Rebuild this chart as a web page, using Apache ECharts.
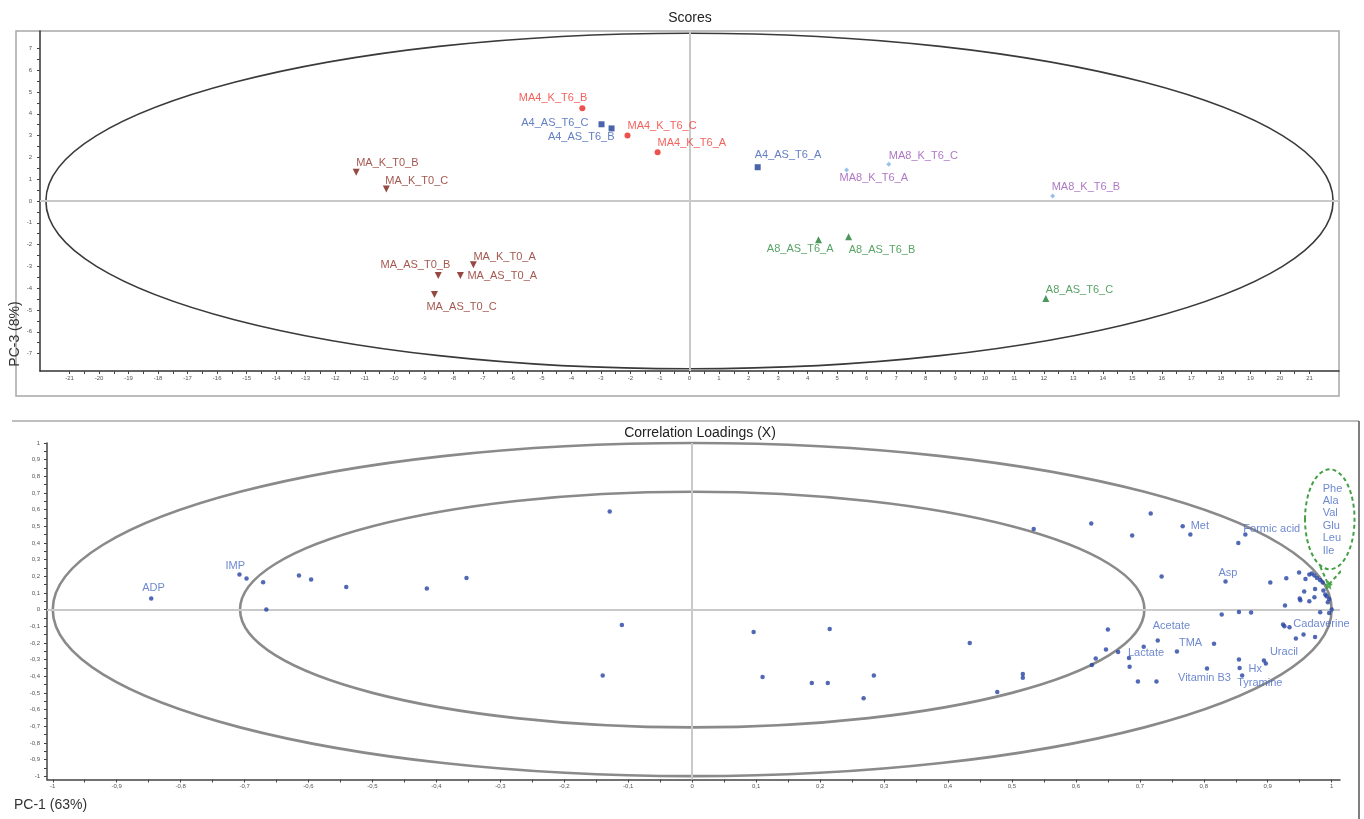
<!DOCTYPE html>
<html>
<head>
<meta charset="utf-8">
<script src="https://cdn.jsdelivr.net/npm/echarts@6/dist/echarts.min.js"></script>
<style>
html,body{margin:0;padding:0;background:#fff;}
#chart{width:1364px;height:819px;}
</style>
</head>
<body>
<div id="chart"></div>
<script>
// ---------- Scores (PC-1 vs PC-3) ----------
const scoreNames = ['MA4_K_T6_A','MA4_K_T6_B','MA4_K_T6_C','A4_AS_T6_A','A4_AS_T6_B','A4_AS_T6_C',
  'MA8_K_T6_A','MA8_K_T6_B','MA8_K_T6_C','A8_AS_T6_A','A8_AS_T6_B','A8_AS_T6_C',
  'MA_K_T0_A','MA_K_T0_B','MA_K_T0_C','MA_AS_T0_A','MA_AS_T0_B','MA_AS_T0_C'];
const scorePC1 = [-1.08,-3.63,-2.10, 2.31,-2.64,-2.98, 5.32,12.30,6.75, 4.37,5.39,12.07, -7.32,-11.29,-10.27, -7.76,-8.51,-8.64];
const scorePC3 = [2.24,4.25,3.01, 1.55,3.33,3.52, 1.42,0.23,1.69, -1.78,-1.64,-4.47, -2.92,1.32,0.55, -3.42,-3.42,-4.29];
const scoreGroup = ['MA4_K','MA4_K','MA4_K','A4_AS','A4_AS','A4_AS','MA8_K','MA8_K','MA8_K',
  'A8_AS','A8_AS','A8_AS','MA_T0','MA_T0','MA_T0','MA_T0','MA_T0','MA_T0'];
const scoreXTickLabels = [-21,-20,-19,-18,-17,-16,-15,-14,-13,-12,-11,-10,-9,-8,-7,-6,-5,-4,-3,-2,-1,0,1,2,3,4,5,6,7,8,9,10,11,12,13,14,15,16,17,18,19,20,21];
const scoreYTickLabels = [-7,-6,-5,-4,-3,-2,-1,0,1,2,3,4,5,6,7];

// ---------- Correlation loadings (PC-1 vs PC-3) ----------
const loadNames = ['ADP','IMP','','','','','','','','','','',
  '','','','','','','','','','','','',
  '','','','','Met','','','Formic acid','','Asp','','','',
  '','','','','','Lactate','','','','','Acetate','','TMA','Vitamin B3','','Hx','Tyramine','Uracil','',
  '','','','','','','','','','','','','','','','','','','','','','','','','','','Cadaverine','','',''];
const loadPC1 = [-0.846,-0.708,-0.697,-0.671,-0.666,-0.615,-0.596,-0.541,-0.415,-0.353,-0.129,-0.110,
  -0.140,0.096,0.215,0.110,0.187,0.212,0.284,0.268,0.434,0.517,0.517,0.477,
  0.534,0.624,0.717,0.688,0.767,0.779,0.854,0.865,0.734,0.834,0.828,0.855,0.874,
  0.650,0.647,0.666,0.631,0.625,0.683,0.684,0.697,0.726,0.706,0.728,0.816,0.758,0.805,0.855,0.856,0.860,0.894,0.897,
  0.904,0.929,0.949,0.959,0.965,0.969,0.973,0.977,0.982,0.986,0.957,0.974,0.987,0.950,0.951,0.965,0.973,0.990,0.992,0.996,0.994,0.927,0.982,0.996,1.000,0.924,0.926,0.934,0.956,0.944,0.974];
const loadPC3 = [0.066,0.210,0.186,0.164,0.000,0.205,0.180,0.136,0.126,0.190,0.589,-0.092,
  -0.395,-0.134,-0.116,-0.405,-0.441,-0.441,-0.395,-0.533,-0.200,-0.387,-0.409,-0.495,
  0.483,0.517,0.577,0.445,0.501,0.451,0.399,0.451,0.198,0.168,-0.030,-0.014,-0.018,
  -0.120,-0.240,-0.255,-0.293,-0.333,-0.290,-0.343,-0.431,-0.431,-0.223,-0.186,-0.205,-0.251,-0.353,-0.299,-0.351,-0.395,-0.305,-0.323,
  0.163,0.188,0.223,0.184,0.210,0.216,0.204,0.190,0.176,0.163,0.108,0.124,0.114,0.066,0.056,0.050,0.074,0.090,0.080,0.064,0.044,0.024,-0.016,-0.020,0.000,-0.090,-0.100,-0.106,-0.150,-0.174,-0.164];
const highlightName = ['Phe / Ala / Val / Glu / Leu / Ile'];
const highlightPC1 = [0.995];
const highlightPC3 = [0.148];
const clusterNames = ['Phe','Ala','Val','Glu','Leu','Ile'];
const loadTickLabels = [-1,-0.9,-0.8,-0.7,-0.6,-0.5,-0.4,-0.3,-0.2,-0.1,0,0.1,0.2,0.3,0.4,0.5,0.6,0.7,0.8,0.9,1];

// ---------- layout / style (not data) ----------
const FONT = "'Liberation Sans', Arial, sans-serif";
const scoreLabelPos = {
  'MA4_K_T6_A':['left',0,-9],'MA4_K_T6_B':['right',5,-10],'MA4_K_T6_C':['left',0,-9],
  'A4_AS_T6_A':['left',-3,-12],'A4_AS_T6_B':['right',3,9],'A4_AS_T6_C':['right',-13,-1],
  'MA8_K_T6_A':['left',-7,8],'MA8_K_T6_B':['left',-1,-9],'MA8_K_T6_C':['left',0,-8],
  'A8_AS_T6_A':['right',15,9],'A8_AS_T6_B':['left',0,13],'A8_AS_T6_C':['left',0,-8],
  'MA_K_T0_A':['left',0,-8],'MA_K_T0_B':['left',0,-9],'MA_K_T0_C':['left',-1,-8],
  'MA_AS_T0_A':['left',7,0],'MA_AS_T0_B':['right',12,-11],'MA_AS_T0_C':['left',-8,12]
};
const groupStyle = {
  'MA4_K':{symbol:'circle',size:6,rot:0,color:'#e8251f',label:'#ef3a32'},
  'A4_AS':{symbol:'rect',size:6,rot:0,color:'#1c3f93',label:'#3a5cb5'},
  'MA8_K':{symbol:'diamond',size:5,rot:0,color:'#7eb3e6',label:'#9c55b8'},
  'A8_AS':{symbol:'triangle',size:7,rot:0,color:'#1e7d33',label:'#2e8c3f'},
  'MA_T0':{symbol:'triangle',size:7,rot:180,color:'#7a1d12',label:'#8c2d22'}
};
const loadLabelPos = {
  'ADP':['left',-9,-11],'IMP':['left',-14,-9],'Met':['left',8,0],'Formic acid':['left',-2,-5],
  'Asp':['left',-7,-9],'Acetate':['left',-5,-15],'TMA':['left',2,-8],'Lactate':['left',-1,-5],
  'Vitamin B3':['left',-29,10],'Hx':['left',9,1],'Tyramine':['left',-5,8],'Uracil':['left',6,-8],
  'Cadaverine':['left',9,-2]
};
const clusterLabelX = 0.986;
const clusterLabelY = [0.722,0.654,0.582,0.504,0.428,0.352];

function withMid(arr){
  const out = arr.slice();
  for (let i=0;i<arr.length-1;i++) out.push((arr[i]+arr[i+1])/2);
  return out;
}
function fmtComma(v){
  if (v === 0) return '0';
  return String(Math.round(v*10)/10).replace('.', ',');
}

const chart = echarts.init(document.getElementById('chart'), null, {renderer:'canvas'});

// scores series by group
const groups = ['MA4_K','A4_AS','MA8_K','A8_AS','MA_T0'];
const scoreSeries = groups.map(g => {
  const st = groupStyle[g];
  const data = [];
  scoreNames.forEach((n,i) => {
    if (scoreGroup[i] !== g) return;
    const p = scoreLabelPos[n];
    data.push({name:n, value:[scorePC1[i], scorePC3[i]],
      label:{show:true, position:'inside', formatter:'{b}', align:p[0], verticalAlign:'middle',
        offset:[p[1],p[2]], color:st.label, fontSize:11, fontFamily:FONT}});
  });
  return {type:'scatter', xAxisIndex:0, yAxisIndex:0, symbol:st.symbol, symbolSize:st.size,
    symbolRotate:st.rot, itemStyle:{color:st.color}, data, silent:true, z:5};
});

const loadData = loadPC1.map((x,i) => {
  const n = loadNames[i];
  const d = {name:n, value:[x, loadPC3[i]]};
  if (n && loadLabelPos[n]) {
    const p = loadLabelPos[n];
    d.label = {show:true, position:'inside', formatter:'{b}', align:p[0], verticalAlign:'middle',
      offset:[p[1],p[2]], color:'#4a6cc4', fontSize:11, fontFamily:FONT};
  }
  return d;
});

const ellipseRender = (stroke, width, dash) => function(params, api){
  const c = api.coord([api.value(0), api.value(1)]);
  const s = api.size([api.value(2), api.value(3)]);
  return {type:'ellipse', shape:{cx:c[0], cy:c[1], rx:s[0], ry:s[1]},
    style:{fill:'none', stroke:stroke, lineWidth:width, lineDash:dash||null}};
};

const zeroLine = {silent:true, symbol:'none', label:{show:false},
  lineStyle:{color:'#c9c9c9', width:2, type:'solid'}, data:[{xAxis:0},{yAxis:0}], animation:false};

const tinyLabel = {fontSize:6, color:'#555', fontFamily:FONT};

const option = {
  animation:false,
  backgroundColor:'#fff',
  grid:[
    {left:40, right:25, top:31, height:340},
    {left:47, right:24, top:443, height:336.5}
  ],
  xAxis:[
    {gridIndex:0, type:'value', min:-22, max:22,
     axisLine:{show:true, onZero:false, lineStyle:{color:'#333', width:1.5}},
     axisTick:{show:true, length:3, customValues:withMid(scoreXTickLabels), lineStyle:{color:'#444'}},
     axisLabel:Object.assign({show:true, margin:4, customValues:scoreXTickLabels}, tinyLabel),
     splitLine:{show:false}},
    {gridIndex:1, type:'value', min:-1.009, max:1.013,
     axisLine:{show:true, onZero:false, lineStyle:{color:'#444', width:1.5}},
     axisTick:{show:true, length:3, customValues:withMid(loadTickLabels), lineStyle:{color:'#444'}},
     axisLabel:Object.assign({show:true, margin:4, customValues:loadTickLabels, formatter:fmtComma}, tinyLabel),
     splitLine:{show:false}}
  ],
  yAxis:[
    {gridIndex:0, type:'value', min:-7.8, max:7.8,
     axisLine:{show:true, onZero:false, lineStyle:{color:'#333', width:1.5}},
     axisTick:{show:true, length:3, customValues:withMid(scoreYTickLabels), lineStyle:{color:'#444'}},
     axisLabel:Object.assign({show:true, margin:8, customValues:scoreYTickLabels}, tinyLabel),
     splitLine:{show:false}},
    {gridIndex:1, type:'value', min:-1.02, max:1.0,
     axisLine:{show:true, onZero:false, lineStyle:{color:'#444', width:1.5}},
     axisTick:{show:true, length:3, customValues:withMid(loadTickLabels), lineStyle:{color:'#444'}},
     axisLabel:Object.assign({show:true, margin:7, customValues:loadTickLabels, formatter:fmtComma}, tinyLabel),
     splitLine:{show:false}}
  ],
  series:[
    // zero lines + Hotelling ellipse (scores)
    {type:'custom', xAxisIndex:0, yAxisIndex:0, renderItem:ellipseRender('#3a3a3a',1.6),
     data:[[0,0,21.8,7.7]], silent:true, z:2, markLine:zeroLine},
    ...scoreSeries,
    // correlation circles (loadings)
    {type:'custom', xAxisIndex:1, yAxisIndex:1, renderItem:ellipseRender('#8a8a8a',2.6),
     data:[[0,0,1,1],[0,0,0.7071,0.7071]], silent:true, z:2, markLine:zeroLine},
    {type:'custom', xAxisIndex:1, yAxisIndex:1, renderItem:ellipseRender('#45a045',2,[4,3]),
     data:[[0.997,0.542,0.0387,0.30]], silent:true, z:3},
    {type:'line', xAxisIndex:1, yAxisIndex:1, symbol:'none', silent:true, z:3,
     lineStyle:{color:'#45a045', width:2, type:[4,3]},
     data:[[0.982,0.259],[0.995,0.148],[1.019,0.250]]},
    {type:'scatter', xAxisIndex:1, yAxisIndex:1, symbol:'circle', symbolSize:4.5,
     itemStyle:{color:'#2642a3'}, data:loadData, silent:true, z:5},
    {type:'scatter', xAxisIndex:1, yAxisIndex:1,
     symbol:'path://M0,-10 L2.9,-4 L9.5,-3.1 L4.7,1.5 L5.9,8.1 L0,5 L-5.9,8.1 L-4.7,1.5 L-9.5,-3.1 L-2.9,-4 Z',
     symbolSize:9, itemStyle:{color:'#2f9a2f'},
     data:highlightPC1.map((x,i)=>({name:highlightName[i], value:[x, highlightPC3[i]]})), silent:true, z:6},
    {type:'scatter', xAxisIndex:1, yAxisIndex:1, symbolSize:0, silent:true, z:6,
     data:clusterNames.map((n,i)=>({name:n, value:[clusterLabelX, clusterLabelY[i]]})),
     label:{show:true, position:'inside', formatter:'{b}', align:'left', verticalAlign:'middle',
       color:'#4a6cc4', fontSize:11, fontFamily:FONT}}
  ],
  graphic:[
    {type:'rect', shape:{x:16, y:31, width:1323, height:365}, style:{fill:'none', stroke:'#a8a8a8', lineWidth:1.5}, silent:true, z:-1},
    {type:'line', shape:{x1:12, y1:421, x2:1359, y2:421}, style:{stroke:'#a8a8a8', lineWidth:1.5}, silent:true},
    {type:'line', shape:{x1:1359, y1:421, x2:1359, y2:819}, style:{stroke:'#555', lineWidth:1.5}, silent:true},
    {type:'text', x:690, y:18, style:{text:'Scores', fontSize:14, fontFamily:FONT, fill:'#222', align:'center', verticalAlign:'middle'}},
    {type:'text', x:700, y:433, style:{text:'Correlation Loadings (X)', fontSize:14, fontFamily:FONT, fill:'#222', align:'center', verticalAlign:'middle'}},
    {type:'text', x:15, y:334, rotation:Math.PI/2, style:{text:'PC-3 (8%)', fontSize:14, fontFamily:FONT, fill:'#333', align:'center', verticalAlign:'middle'}},
    {type:'text', x:14, y:805, style:{text:'PC-1 (63%)', fontSize:14, fontFamily:FONT, fill:'#333', align:'left', verticalAlign:'middle'}}
  ]
};
chart.setOption(option);
</script>
</body>
</html>
